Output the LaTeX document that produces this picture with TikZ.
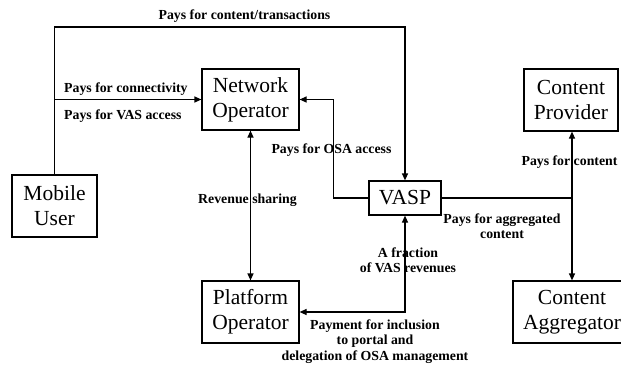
\documentclass[tikz,border=0pt]{standalone}
\usepackage{fontspec}
\setmainfont{Liberation Serif}
\usetikzlibrary{arrows.meta}
\begin{document}
\begin{tikzpicture}[x=1pt,y=-1pt,
  box/.style={draw,line width=1.2pt,inner sep=0pt,align=center,
    font=\fontsize{21.5}{25}\selectfont},
  lbl/.style={inner sep=0pt,align=center,font=\bfseries\fontsize{13.8}{15.5}\selectfont},
  conn/.style={line width=1.2pt},
  arr/.style={conn,-{Triangle[length=7pt,width=6pt]}},
  arrr/.style={conn,{Triangle[length=7pt,width=6pt]}-{Triangle[length=7pt,width=6pt]}}]
\useasboundingbox (0,0) rectangle (621,372);
\begin{scope}
\clip (0,0) rectangle (621,372);
% boxes
\node[box,minimum width=85pt,minimum height=62pt] (mu) at (54.5,206) {Mobile\\User};
\node[box,minimum width=97pt,minimum height=61pt] (no) at (250.5,99.5) {Network\\Operator};
\node[box,minimum width=97pt,minimum height=62pt] (po) at (250.5,312) {Platform\\Operator};
\node[box,minimum width=72pt,minimum height=34pt] (vasp) at (405,198) {VASP};
\node[box,minimum width=94pt,minimum height=62pt] (cp) at (571,100) {Content\\Provider};
\node[box,minimum width=118pt,minimum height=62pt] (ca) at (572,312) {Content\\Aggregator};
% connectors
\coordinate (topy) at (0,27);
\draw[arr] (mu.north) -- (mu.north |- topy) -- (vasp.north |- topy) -- (vasp.north);
\draw[arr] (mu.north |- no.west) -- (no.west);
\draw[arr] (vasp.west) -- ++(-35,0) |- (no.east);
\draw[arrr] (no.south) -- (po.north);
\draw[arrr] (vasp.south) |- (po.east);
\draw[conn] (vasp.east) -- (ca.north |- vasp.east);
\draw[arrr] (ca.north |- cp.south) -- (ca.north);
% labels
\node[lbl] (l1) at (244.5,16) {Pays for content/transactions};
\node[lbl,anchor=west] (l2) at (64,89) {Pays for connectivity};
\node[lbl,anchor=west] (l3) at (64,116) {Pays for VAS access};
\node[lbl] (l4) at (331.5,150) {Pays for OSA access};
\node[lbl] (l5) at (247.5,200) {Revenue sharing};
\node[lbl] (l6) at (408,260) {A fraction\\of VAS revenues};
\node[lbl] (l7) at (375,341.5) {Payment for inclusion\\to portal and\\delegation of OSA management};
\node[lbl] (l8) at (502,226) {Pays for aggregated\\content};
\node[lbl] (l9) at (569.5,162) {Pays for content};
\end{scope}
\end{tikzpicture}
\end{document}
